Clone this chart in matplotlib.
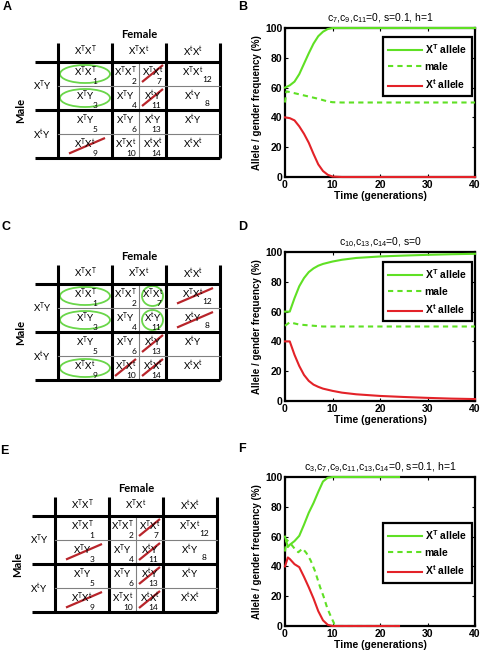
import numpy as np
import matplotlib.pyplot as plt
from matplotlib.patches import Ellipse

plt.rcParams['font.family'] = ['Liberation Sans', 'DejaVu Sans']
plt.rcParams['mathtext.default'] = 'regular'

W, H = 480, 655
fig = plt.figure(figsize=(W / 100, H / 100), dpi=100)

# Table contents (shared by A, C, E)
col_headers = ['TT', 'Tt', 'tt']
row_headers = ['TY', 'tY']
genotypes = [['TT', 'TT', 'Tt', 'Tt'],
             ['TY', 'TY', 'tY', 'tY'],
             ['TY', 'TY', 'tY', 'tY'],
             ['Tt', 'Tt', 'tt', 'tt']]
cell_numbers = [[1, 2, 7, 12],
                [3, 4, 11, 8],
                [5, 6, 13, None],
                [9, 10, 14, None]]
circled_A = [1, 3]
crossed_A = [7, 11, 9]
circled_C = [1, 3, 9, 7, 11]
crossed_C = [12, 8, 13, 10, 14]
circled_E = []
crossed_E = [3, 7, 11, 13, 9, 14]

# Time courses (B, D, F)
tB = [0, 1, 2, 3, 4, 5, 6, 7, 8, 9, 10, 12, 20, 30, 40]
xT_B = [60, 61.5, 64, 69, 76, 83, 89.5, 94.5, 97.5, 99.3, 100, 100, 100, 100, 100]
xt_B = [40, 39.5, 38, 34, 29, 23, 15.5, 8.5, 4, 1.5, 0.3, 0, 0, 0, 0]
tB_male = [0, 0.3, 1, 3, 5, 7, 9, 10, 12, 20, 30, 40]
male_B = [50, 57.5, 57, 55.5, 54, 52.5, 50.7, 50.2, 50, 50, 50, 50]

tD = [0, 1, 2, 3, 4, 5, 6, 7, 8, 10, 12, 15, 20, 25, 30, 35, 40]
xT_D = [60, 60, 69, 77, 82.5, 86.5, 89, 90.8, 92, 93.6, 94.8, 96, 97, 97.6, 98.1, 98.5, 98.8]
xt_D = [40, 40, 31, 23.5, 17.5, 13.5, 11, 9.5, 8.3, 6.8, 5.6, 4.5, 3.4, 2.7, 2.1, 1.6, 1.3]
tD_male = [0, 1, 3, 6, 8, 20, 40]
male_D = [50.5, 52.8, 51.3, 50.5, 50, 50, 50]

tF = [0, 0.6, 1, 2, 3, 4, 5, 6, 7, 8, 9, 10, 12, 24]
xT_F = [60, 53, 54.5, 57, 60.5, 68, 76, 82.5, 90, 97, 99.5, 100, 100, 100]
xt_F = [40, 46, 45, 41.5, 39.5, 33, 26, 18.5, 10, 3.8, 0.8, 0, 0, 0]
tF_male = [0, 0.3, 1, 2, 2.8, 3.7, 4.5, 5.4, 6.3, 7.4, 8.1, 8.9, 9.6, 10.4, 11.1, 24]
male_F = [50, 58, 56, 52, 49.5, 52, 49, 44, 37, 26, 20, 12, 6.8, 1.3, 0, 0]

green = '#5fe024'
red = '#e32228'
tfont = ['Lato', 'DejaVu Sans']

# table grid in local pixel units
col_edges = [23, 77, 104, 131, 185]
row_edges = [19, 43, 67, 91, 115]


def px_axes(x0, y0, w, h):
    return fig.add_axes([x0 / W, 1 - (y0 + h) / H, w / W, h / H])


def geno(code):
    if code[1] == 'Y':
        return 'X$^{%s}$Y' % code[0]
    return 'X$^{%s}$X$^{%s}$' % (code[0], code[1])


def cell_pos(num):
    for r, row in enumerate(cell_numbers):
        if num in row:
            return r, row.index(num)


def draw_table(ox, oy, circled, crossed):
    ax = px_axes(ox - 32, oy - 16, 222, 136)
    ax.set_xlim(-32, 190)
    ax.set_ylim(120, -16)
    ax.axis('off')
    thick = dict(color='black', lw=2.2, solid_capstyle='butt')
    thin = dict(color='#808080', lw=0.8)
    for x in [23, 77, 131, 185]:
        ax.plot([x, x], [0, 115], **thick)
    ax.plot([104, 104], [19, 115], **thin)
    for y in [19, 67, 115]:
        ax.plot([0, 185], [y, y], **thick)
    for y in [43, 91]:
        ax.plot([23, 185], [y, y], **thin)

    ax.text(104, -9, 'Female', ha='center', va='center', fontsize=8,
            fontweight='bold', family=tfont)
    ax.text(-14, 67, 'Male', ha='center', va='center', rotation=90,
            fontsize=8, fontweight='bold', family=tfont)
    for i, h in enumerate(col_headers):
        ax.text(50 + 54 * i, 8, geno(h), ha='center', va='center',
                fontsize=7, family=tfont)
    for i, h in enumerate(row_headers):
        ax.text(7, 43 + 48 * i, geno(h), ha='center', va='center',
                fontsize=7, family=tfont)

    for r in range(4):
        top = row_edges[r]
        for c in range(4):
            left, right = col_edges[c], col_edges[c + 1]
            cx = (left + right) / 2
            ax.text(cx, top + 9.5, geno(genotypes[r][c]), ha='center',
                    va='center', fontsize=7, family=tfont)
            n = cell_numbers[r][c]
            if n is None:
                continue
            if c == 0:
                ax.text(cx + 10, top + 19.5, str(n), ha='center', va='center',
                        fontsize=6, family=tfont)
            elif c == 3:
                ax.text(cx + 14, top + 17, str(n), ha='center', va='center',
                        fontsize=6, family=tfont)
            else:
                off = 2.5 if c == 1 else 4.5
                ax.text(right - off, top + 19.5, str(n), ha='right',
                        va='center', fontsize=6, family=tfont)

    for n in circled:
        r, c = cell_pos(n)
        left, right = col_edges[c], col_edges[c + 1]
        cy = (row_edges[r] + row_edges[r + 1]) / 2
        w, h = (50, 18) if right - left > 40 else (21, 20)
        ax.add_patch(Ellipse(((left + right) / 2, cy), w, h, fill=False,
                             ec='#6ad64a', lw=1.3))
    for n in crossed:
        r, c = cell_pos(n)
        left, right = col_edges[c], col_edges[c + 1]
        top, bot = row_edges[r], row_edges[r + 1]
        if right - left > 40:
            xs, ys = [left + 11, right - 7], [bot - 4.5, top + 4]
        else:
            xs, ys = [left + 3, right - 3], [bot - 4, top + 3]
        ax.plot(xs, ys, color='#b8242a', lw=1.6, solid_capstyle='butt')


def draw_chart(y0, title, t, xT, xt, tm, male, leg_y):
    ax = px_axes(285, y0, 190, 149)
    line = dict(lw=1.5, clip_on=False, zorder=3)
    ax.plot(t, xT, color=green, label=r'X$^T$ allele', **line)
    ax.plot(tm, male, color=green, dashes=(2.5, 2), label='male', **line)
    ax.plot(t, xt, color=red, label=r'X$^t$ allele', **line)
    ax.set_xlim(0, 40)
    ax.set_ylim(0, 100)
    ax.set_xticks(np.arange(0, 41, 10))
    ax.set_yticks(np.arange(0, 101, 20))
    ax.tick_params(direction='in', top=True, right=True, length=2.5,
                   width=0.8, labelsize=7.5, pad=2)
    for lab in ax.get_xticklabels() + ax.get_yticklabels():
        lab.set_fontweight('bold')
    for s in ax.spines.values():
        s.set_linewidth(1.6)
    ax.set_xlabel('Time (generations)', fontsize=7.5, fontweight='bold',
                  labelpad=1)
    ax.set_ylabel('Allele / gender frequency (%)', fontsize=7,
                  fontweight='bold', labelpad=2)
    ax.set_title(title, fontsize=7.5, pad=5)
    leg = ax.legend(loc='upper right', bbox_to_anchor=(0.985, leg_y),
                    borderaxespad=0, fancybox=False, edgecolor='black',
                    framealpha=1, prop=dict(weight='bold', size=7.5),
                    handlelength=3.2, labelspacing=0.55, handletextpad=0.3,
                    borderpad=0.5)
    leg.get_frame().set_linewidth(1.6)
    leg.set_zorder(5)


draw_table(35, 43, circled_A, crossed_A)
draw_table(35, 265, circled_C, crossed_C)
draw_table(32, 497, circled_E, crossed_E)

draw_chart(28, r'c$_7$,c$_9$,c$_{11}$=0, s=0.1, h=1', tB, xT_B, xt_B,
           tB_male, male_B, 0.94)
draw_chart(252, r'c$_{10}$,c$_{13}$,c$_{14}$=0, s=0', tD, xT_D, xt_D,
           tD_male, male_D, 0.933)
draw_chart(477, r'c$_3$,c$_7$,c$_9$,c$_{11}$,c$_{13}$,c$_{14}$=0, s=0.1, h=1',
           tF, xT_F, xt_F, tF_male, male_F, 0.691)

for lab, x, y in [('A', 3, 7), ('B', 238, 7), ('C', 2, 227), ('D', 238, 227),
                  ('E', 0, 451), ('F', 238, 449)]:
    fig.text(x / W, 1 - y / H, lab, fontsize=9, fontweight='bold',
             ha='left', va='center')

fig.savefig('out.png', dpi=100)
